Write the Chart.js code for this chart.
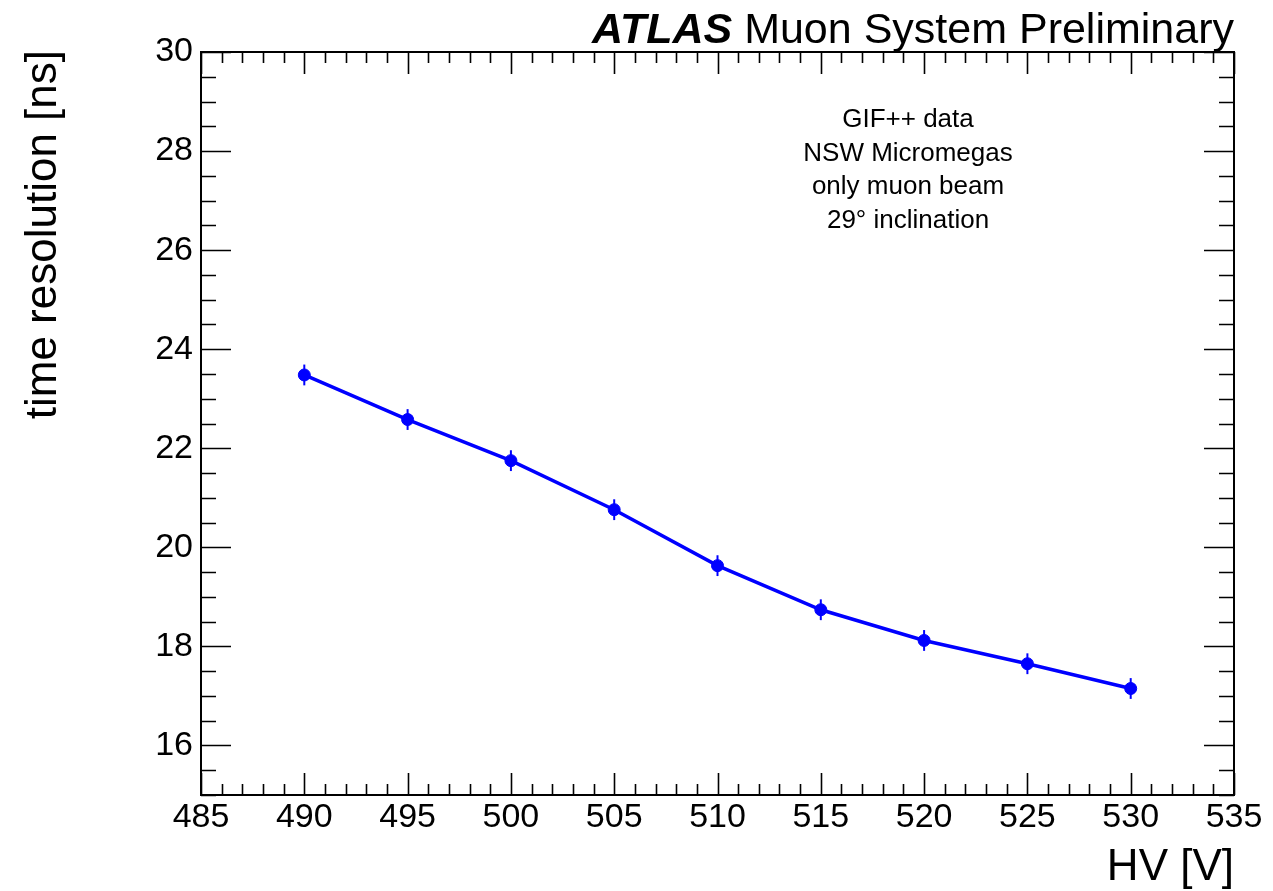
<!DOCTYPE html>
<html>
<head>
<meta charset="utf-8">
<script src="https://cdn.jsdelivr.net/npm/chart.js@4.4.1/dist/chart.umd.min.js"></script>
<style>
  html, body { margin: 0; padding: 0; background: #fff; }
  #wrap { width: 1273px; height: 891px; position: relative; }
</style>
</head>
<body>
<div id="wrap"><canvas id="resChart"></canvas></div>
<script>
// HV scan, time resolution per point
const hvValues = [490, 495, 500, 505, 510, 515, 520, 525, 530];
const timeRes = [23.48, 22.58, 21.75, 20.76, 19.63, 18.74, 18.12, 17.65, 17.15];
const timeResErr = [0.21, 0.21, 0.21, 0.21, 0.21, 0.21, 0.21, 0.21, 0.21];

const xTicks = [485, 490, 495, 500, 505, 510, 515, 520, 525, 530, 535];
const yTicks = [16, 18, 20, 22, 24, 26, 28, 30];
const infoLines = ['GIF++ data', 'NSW Micromegas', 'only muon beam', '29\u00b0 inclination'];

const FONT = '"Liberation Sans", Arial, Helvetica, sans-serif';
const BLUE = '#0000ff';

// vertical error bars on each point
const errorBars = {
    id: 'errorBars',
    afterDatasetsDraw(chart) {
        const ctx = chart.ctx;
        const xs = chart.scales.x, ys = chart.scales.y;
        ctx.save();
        ctx.strokeStyle = BLUE;
        ctx.lineWidth = 2;
        hvValues.forEach((hv, i) => {
            const px = xs.getPixelForValue(hv);
            ctx.beginPath();
            ctx.moveTo(px, ys.getPixelForValue(timeRes[i] - timeResErr[i]));
            ctx.lineTo(px, ys.getPixelForValue(timeRes[i] + timeResErr[i]));
            ctx.stroke();
        });
        ctx.restore();
    }
};

// ROOT style frame: ticks on all four sides, labels, titles
const rootFrame = {
    id: 'rootFrame',
    afterDraw(chart) {
        const ctx = chart.ctx;
        const a = chart.chartArea;
        const xs = chart.scales.x, ys = chart.scales.y;
        ctx.save();
        ctx.strokeStyle = '#000';
        ctx.lineWidth = 2;
        ctx.strokeRect(a.left, a.top, a.right - a.left, a.bottom - a.top);

        ctx.lineWidth = 1.6;
        ctx.beginPath();
        // x ticks, minor every 1 V
        for (let v = 485; v <= 535; v += 1) {
            const px = Math.round(xs.getPixelForValue(v)) + 0.5;
            const len = (v % 5 === 0) ? 22 : 11;
            ctx.moveTo(px, a.bottom); ctx.lineTo(px, a.bottom - len);
            ctx.moveTo(px, a.top); ctx.lineTo(px, a.top + len);
        }
        // y ticks, minor every 0.5 ns
        for (let v = 15; v <= 30; v += 0.5) {
            const py = Math.round(ys.getPixelForValue(v)) + 0.5;
            const len = (v % 2 === 0) ? 30 : 15;
            ctx.moveTo(a.left, py); ctx.lineTo(a.left + len, py);
            ctx.moveTo(a.right, py); ctx.lineTo(a.right - len, py);
        }
        ctx.stroke();

        ctx.fillStyle = '#000';
        ctx.font = '34px ' + FONT;
        ctx.textAlign = 'center';
        ctx.textBaseline = 'middle';
        xTicks.forEach(v => ctx.fillText(String(v), xs.getPixelForValue(v), a.bottom + 23));
        ctx.textAlign = 'right';
        yTicks.forEach(v => ctx.fillText(String(v), a.left - 8, ys.getPixelForValue(v)));

        // axis titles
        ctx.font = '44px ' + FONT;
        ctx.textAlign = 'right';
        ctx.textBaseline = 'alphabetic';
        ctx.fillText('HV [V]', a.right, 880);
        ctx.save();
        ctx.translate(56, 50);
        ctx.rotate(-Math.PI / 2);
        ctx.textAlign = 'right';
        ctx.fillText('time resolution [ns]', 0, 0);
        ctx.restore();

        // header
        ctx.textAlign = 'left';
        ctx.font = '43px ' + FONT;
        const rest = ' Muon System Preliminary';
        const restW = ctx.measureText(rest).width;
        ctx.font = 'italic bold 43px ' + FONT;
        const atlasW = ctx.measureText('ATLAS').width;
        const x0 = a.right - restW - atlasW;
        ctx.fillText('ATLAS', x0, 43);
        ctx.font = '43px ' + FONT;
        ctx.fillText(rest, x0 + atlasW, 43);

        // run info
        ctx.font = '26px ' + FONT;
        ctx.textAlign = 'center';
        ctx.textBaseline = 'middle';
        infoLines.forEach((t, i) => ctx.fillText(t, 908, 120 + i * 33.5));
        ctx.restore();
    }
};

const resCtx = document.getElementById('resChart').getContext('2d');
const resChart = new Chart(resCtx, {
    type: 'scatter',
    data: {
        datasets: [{
            data: hvValues.map((hv, i) => ({ x: hv, y: timeRes[i] })),
            showLine: true,
            borderColor: BLUE,
            backgroundColor: BLUE,
            borderWidth: 3.5,
            pointRadius: 6,
            pointBorderWidth: 1,
            pointHoverRadius: 6,
            tension: 0
        }]
    },
    options: {
        responsive: true,
        maintainAspectRatio: false,
        animation: false,
        layout: {
            padding: { left: 201, top: 52, right: 39, bottom: 96 }
        },
        plugins: {
            legend: { display: false },
            tooltip: { enabled: false }
        },
        scales: {
            x: { type: 'linear', min: 485, max: 535, display: false },
            y: { type: 'linear', min: 15, max: 30, display: false }
        }
    },
    plugins: [errorBars, rootFrame]
});
</script>
</body>
</html>
